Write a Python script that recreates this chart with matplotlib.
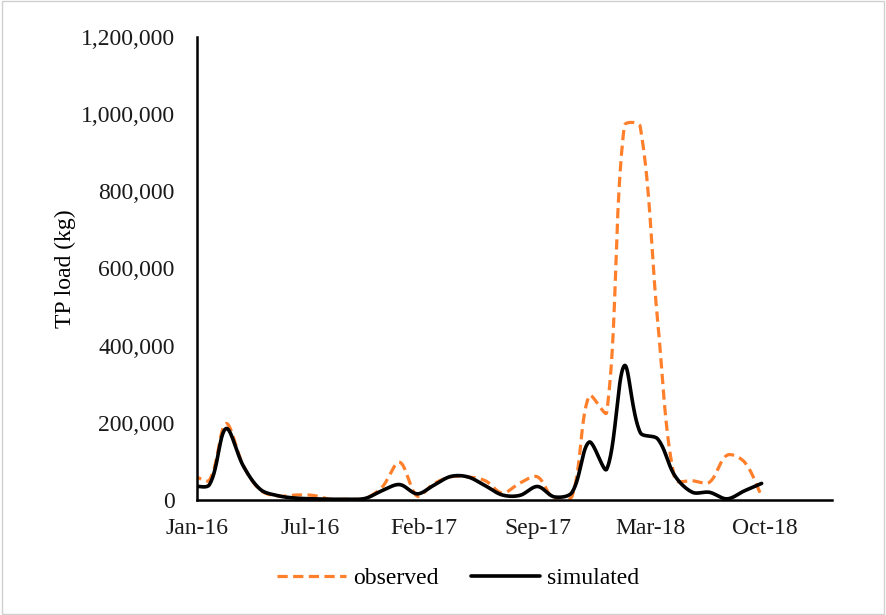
import numpy as np
import pandas as pd
import matplotlib
matplotlib.use("Agg")
import matplotlib.pyplot as plt
import matplotlib.dates as mdates
from matplotlib.ticker import FuncFormatter, MultipleLocator
from matplotlib.patches import Rectangle

# Monthly total phosphorus load (kg), Jan 2016 - Oct 2018
months = pd.date_range("2016-01-01", "2018-10-01", freq="MS")
observed = [65000, 52000, 198000, 88000, 25000, 10000, 13000, 12000, 2000, 2000,
            4000, 33000, 98000, 10000, 41000, 60000, 60000, 50000, 18000, 44000,
            60000, 0, 10000, 270000, 227000, 970000, 968000, 460000, 54000, 50000,
            46000, 116000, 98000, 10000]
simulated = [36000, 40000, 185000, 87000, 27000, 11000, 5000, 3000, 2000, 2000,
             4000, 24000, 40000, 16000, 37000, 61000, 60000, 37000, 13000, 12000,
             35000, 8000, 20000, 150000, 80000, 348000, 175000, 158000, 63000, 20000,
             20000, 3000, 24000, 43000]
tick_labels = ["Jan-16", "Jul-16", "Feb-17", "Sep-17", "Mar-18", "Oct-18"]
series_labels = ["observed", "simulated"]


def smooth_display(ax, x, y, n=30):
    """Bezier smoothing through every point, computed in screen space.

    Control-point handles are scaled by neighbouring segment lengths,
    which keeps short flat segments from overshooting.
    """
    pts = ax.transData.transform(np.column_stack([x, y]).astype(float))
    Pp = np.vstack([pts[0], pts, pts[-1]])
    t = np.linspace(0, 1, n, endpoint=False)[:, None]
    out = []
    for i in range(len(pts) - 1):
        p0, p1, p2, p3 = Pp[i], Pp[i + 1], Pp[i + 2], Pp[i + 3]
        d01 = np.hypot(*(p1 - p0))
        d12 = np.hypot(*(p2 - p1))
        d23 = np.hypot(*(p3 - p2))
        f1 = d12 / (d01 + d12) if d01 + d12 > 0 else 0.5
        f2 = d12 / (d12 + d23) if d12 + d23 > 0 else 0.5
        c1 = p1 + (p2 - p0) * f1 / 3.0
        c2 = p2 - (p3 - p1) * f2 / 3.0
        seg = ((1 - t) ** 3) * p1 + 3 * ((1 - t) ** 2) * t * c1 \
            + 3 * (1 - t) * (t ** 2) * c2 + (t ** 3) * p2
        out.append(seg)
    out.append(pts[-1:])
    curve = ax.transData.inverted().transform(np.vstack(out))
    return curve[:, 0], curve[:, 1]


plt.rcParams["font.family"] = ["Liberation Serif", "DejaVu Serif"]

W, H = 886, 615
fig = plt.figure(figsize=(W / 100, H / 100), dpi=100)
ax = fig.add_axes([197 / W, 1 - 500 / H, (832 - 197) / W, (500 - 37) / H])

# date axis: starts a few days into January, labels every 200 days
x_start = mdates.date2num(pd.Timestamp("2016-01-10"))
tick_step = 200
ax.set_xlim(x_start, x_start + 1119)
ax.set_ylim(0, 1200000)

xnum = mdates.date2num(months)
xo, yo = smooth_display(ax, xnum, observed)
xs, ys = smooth_display(ax, xnum, simulated)

ax.plot(xo, yo, color="#FF7F2A", lw=2.3, dashes=(3.2, 1.7),
        label=series_labels[0])
ax.plot(xs, ys, color="black", lw=2.6, label=series_labels[1],
        solid_capstyle="round")

ax.set_xticks([x_start + tick_step * k for k in range(len(tick_labels))])
ax.set_xticklabels(tick_labels)

ax.yaxis.set_major_locator(MultipleLocator(200000))
ax.yaxis.set_major_formatter(FuncFormatter(lambda v, p: f"{v:,.0f}"))
ax.set_ylabel("TP load (kg)", fontsize=17, labelpad=3)

for side in ("top", "right"):
    ax.spines[side].set_visible(False)
for side in ("left", "bottom"):
    ax.spines[side].set_linewidth(1.8)
    ax.spines[side].set_color("black")
ax.tick_params(axis="both", length=0, labelsize=17, colors="#1a1a1a")
ax.tick_params(axis="y", pad=16)
ax.tick_params(axis="x", pad=13)

fig.legend(loc="center", bbox_to_anchor=(458 / W, 1 - 578 / H), ncol=2,
           frameon=False, fontsize=17, handlelength=2.95, handletextpad=0.3,
           columnspacing=1.35)

fig.patches.append(Rectangle((0.002, 0.002), 0.996, 0.996, transform=fig.transFigure,
                             fill=False, edgecolor="#D0D0D0", lw=1.0))

fig.savefig("out.png", dpi=100)
